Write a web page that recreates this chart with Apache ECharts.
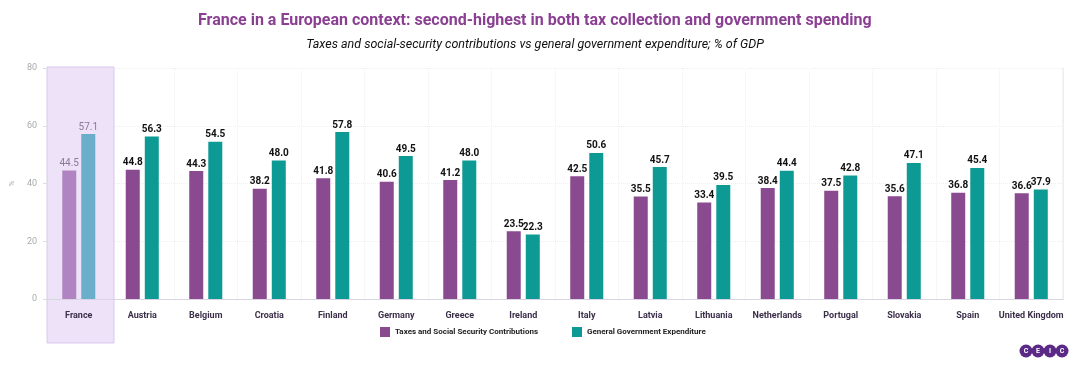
<!DOCTYPE html>
<html><head><meta charset="utf-8">
<script src="https://cdn.jsdelivr.net/npm/echarts@6/dist/echarts.min.js"></script>
<style>html,body{margin:0;padding:0;background:#fff}#c{width:1070px;height:365px}</style>
</head><body><div id="c"></div>
<script>
const categories = ['France','Austria','Belgium','Croatia','Finland','Germany','Greece','Ireland','Italy','Latvia','Lithuania','Netherlands','Portugal','Slovakia','Spain','United Kingdom'];
const taxes = [44.5,44.8,44.3,38.2,41.8,40.6,41.2,23.5,42.5,35.5,33.4,38.4,37.5,35.6,36.8,36.6];
const spending = [57.1,56.3,54.5,48.0,57.8,49.5,48.0,22.3,50.6,45.7,39.5,44.4,42.8,47.1,45.4,37.9];
const yTicks = [0,20,40,60,80];
const highlight = 'France';

const TAX = '#8a4a8f', EXP = '#0e9a94', TAX_H = '#b084c0', EXP_H = '#6aaec9';
const chart = echarts.init(document.getElementById('c'));
function mk(vals, c, ch) {
  return vals.map((v, i) => categories[i] === highlight
    ? {value: v, itemStyle: {color: ch}, label: {color: '#8a7a9a', fontWeight: 'normal'}}
    : {value: v, itemStyle: {color: c}});
}
const lbl = {show: true, position: 'top', distance: 2, fontFamily: 'Roboto', fontSize: 10, fontWeight: 'bold', color: '#111', formatter: p => p.value.toFixed(1)};
chart.setOption({
  animation: false,
  textStyle: {fontFamily: 'Roboto'},
  title: [{
    text: 'France in a European context: second-highest in both tax collection and government spending',
    left: 193, top: 8,
    textStyle: {fontFamily: 'Roboto', fontSize: 16, fontWeight: 'bold', color: '#8b3f93'}
  }, {
    text: 'Taxes and social-security contributions vs general government expenditure; % of GDP',
    left: 'center', top: 33,
    textStyle: {fontFamily: 'Roboto', fontSize: 12.5, fontStyle: 'italic', fontWeight: 'normal', color: '#111'}
  }],
  grid: {left: 46, right: 7, top: 68, bottom: 66, containLabel: false},
  legend: {
    bottom: 23, left: 375, itemWidth: 10, itemHeight: 10, itemGap: 34, icon: 'rect',
    textStyle: {fontFamily: 'Roboto', fontSize: 8, fontWeight: 'bold', color: '#222'},
    data: [{name: 'Taxes and Social Security Contributions', itemStyle: {color: TAX}},
           {name: 'General Government Expenditure', itemStyle: {color: EXP}}]
  },
  xAxis: {
    type: 'category', data: categories,
    axisLine: {lineStyle: {color: '#d8d4e2'}},
    axisTick: {show: false},
    axisLabel: {fontFamily: 'Roboto', fontSize: 9, fontWeight: 'bold', color: '#3b2f4a', margin: 12, interval: 0},
    splitLine: {show: true, interval: 0, lineStyle: {color: '#f0eef4', type: 'dotted'}}
  },
  yAxis: {
    type: 'value', min: yTicks[0], max: yTicks[yTicks.length-1], interval: 20,
    name: '%', nameLocation: 'middle', nameGap: 30, nameRotate: 90,
    nameTextStyle: {fontSize: 8, color: '#aaa'},
    axisLine: {show: false},
    axisTick: {show: true, length: 4, lineStyle: {color: '#ddd'}},
    axisLabel: {fontFamily: 'Roboto', fontSize: 9, color: '#aaa', margin: 10},
    splitLine: {lineStyle: {color: '#eeeeee', type: 'dotted'}}
  },
  series: [
    {name: 'Taxes and Social Security Contributions', type: 'bar', data: mk(taxes, TAX, TAX_H),
     barWidth: 14, barGap: '36%', label: lbl, z: 3},
    {name: 'General Government Expenditure', type: 'bar', data: mk(spending, EXP, EXP_H),
     barWidth: 14, barGap: '36%', label: lbl, z: 3}
  ]
});

function addGraphics() {
  const i = categories.indexOf(highlight);
  const cx0 = chart.convertToPixel({xAxisIndex: 0}, i);
  const cx1 = chart.convertToPixel({xAxisIndex: 0}, i + 1);
  const band = cx1 - cx0;
  const yTop = chart.convertToPixel({yAxisIndex: 0}, yTicks[yTicks.length-1]);
  const logoX = 1026, logoY = 351;
  const letters = ['C','E','I','C'];
  const logo = letters.map((L, k) => ({
    type: 'group', x: logoX + k * 12, y: logoY,
    children: [
      {type: 'circle', shape: {cx: 0, cy: 0, r: 6.5}, style: {fill: '#5b2a86'}},
      {type: 'text', style: {text: L, x: 0, y: 0, fill: '#fff', font: 'bold 7px Roboto', textAlign: 'center', textVerticalAlign: 'middle'}}
    ]
  }));
  chart.setOption({graphic: [
    {type: 'rect', z: 0, zlevel: 0, silent: true,
     shape: {x: cx0 - band / 2, y: yTop - 1, width: band * 1.055, height: 344 - yTop},
     style: {fill: '#ede2f8', stroke: '#d9c9ee', lineWidth: 1}},
    {type: 'line', shape: {x1: 1063, y1: yTop, x2: 1063, y2: chart.convertToPixel({yAxisIndex: 0}, 0)},
     style: {stroke: '#e6e6ea', lineWidth: 1}},
    ...logo
  ]});
}
addGraphics();
</script></body></html>
